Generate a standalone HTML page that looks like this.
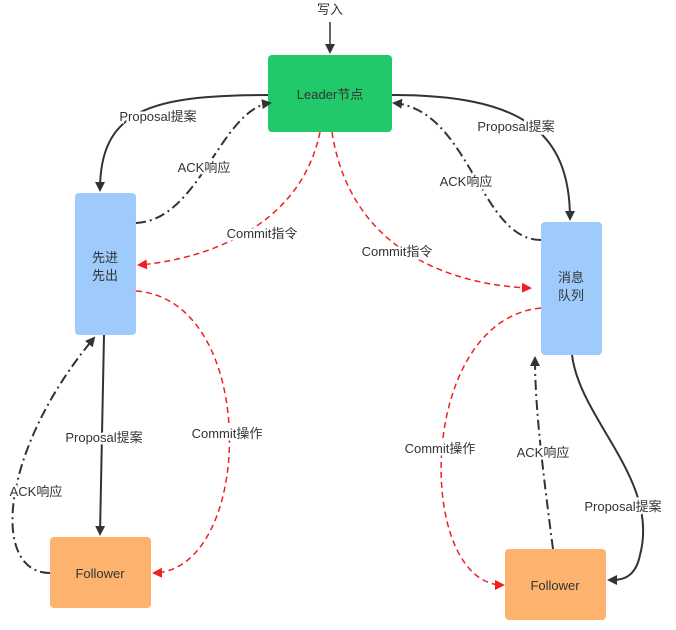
<!DOCTYPE html>
<html><head><meta charset="utf-8"><style>
body{margin:0;background:#fff;}
svg text{font-family:"Liberation Sans","Noto Sans CJK SC",sans-serif;font-size:13px;fill:#333;}
</style></head><body>
<svg width="676" height="625" viewBox="0 0 676 625" xmlns="http://www.w3.org/2000/svg">
<defs>
<marker id="ab" markerWidth="10" markerHeight="10" refX="8" refY="5" orient="auto" markerUnits="userSpaceOnUse"><path d="M0,0 L10,5 L0,10 Z" fill="#333"/></marker>
<marker id="ar" markerWidth="10" markerHeight="10" refX="8" refY="5" orient="auto" markerUnits="userSpaceOnUse"><path d="M0,0 L10,5 L0,10 Z" fill="#f02020"/></marker>
</defs>
<rect x="268" y="55" width="124" height="77" rx="4" fill="#22c96a"/>
<rect x="75" y="193" width="61" height="142" rx="4" fill="#9ecbfb"/>
<rect x="541" y="222" width="61" height="133" rx="4" fill="#9ecbfb"/>
<rect x="50" y="537" width="101" height="71" rx="4" fill="#fdb36e"/>
<rect x="505" y="549" width="101" height="71" rx="4" fill="#fdb36e"/>
<g fill="none" stroke="#333" stroke-width="2">
<path d="M330,22 L330,52" stroke="#666" marker-end="url(#ab)"/>
<path d="M268,95 C150,95 100,110 100,190" marker-end="url(#ab)"/>
<path d="M392,95 C520,95 570,130 570,219" marker-end="url(#ab)"/>
<path d="M104,335 L100,534" marker-end="url(#ab)"/>
<path d="M572,355 C580,420 660,480 640,555 C635,580 620,580 609,580" marker-end="url(#ab)"/>
<g stroke-dasharray="10,4,2,4">
<path d="M136,223 C200,220 220,110 270,103" marker-end="url(#ab)"/>
<path d="M541,240 C480,240 470,110 394,103" marker-end="url(#ab)"/>
<path d="M50,573 C-10,573 0,450 94,338" marker-end="url(#ab)"/>
<path d="M553,549 C540,450 535,400 535,358" marker-end="url(#ab)"/>
</g>
</g>
<g fill="none" stroke="#f02020" stroke-width="1.5" stroke-dasharray="6,4">
<path d="M320,132 C300,230 200,260 139,265" marker-end="url(#ar)"/>
<path d="M332,132 C350,250 450,285 530,288" marker-end="url(#ar)"/>
<path d="M136,291 C260,300 255,570 154,573" marker-end="url(#ar)"/>
<path d="M541,308 C415,320 415,585 503,585" marker-end="url(#ar)"/>
</g>
<g text-anchor="middle">
<text x="330" y="14">写入</text>
<text x="330" y="99">Leader节点</text>
<text x="105" y="262">先进</text><text x="105" y="280">先出</text>
<text x="571" y="282">消息</text><text x="571" y="300">队列</text>
<text x="100" y="578">Follower</text>
<text x="555" y="590">Follower</text>
</g>
<g text-anchor="middle" paint-order="stroke" stroke="#fff" stroke-width="5">
<text x="158" y="121">Proposal提案</text>
<text x="204" y="172">ACK响应</text>
<text x="262" y="238">Commit指令</text>
<text x="397" y="256">Commit指令</text>
<text x="516" y="131">Proposal提案</text>
<text x="466" y="186">ACK响应</text>
<text x="104" y="442">Proposal提案</text>
<text x="227" y="438">Commit操作</text>
<text x="36" y="496">ACK响应</text>
<text x="440" y="453">Commit操作</text>
<text x="543" y="457">ACK响应</text>
<text x="623" y="511">Proposal提案</text>
</g>
</svg>
</body></html>
